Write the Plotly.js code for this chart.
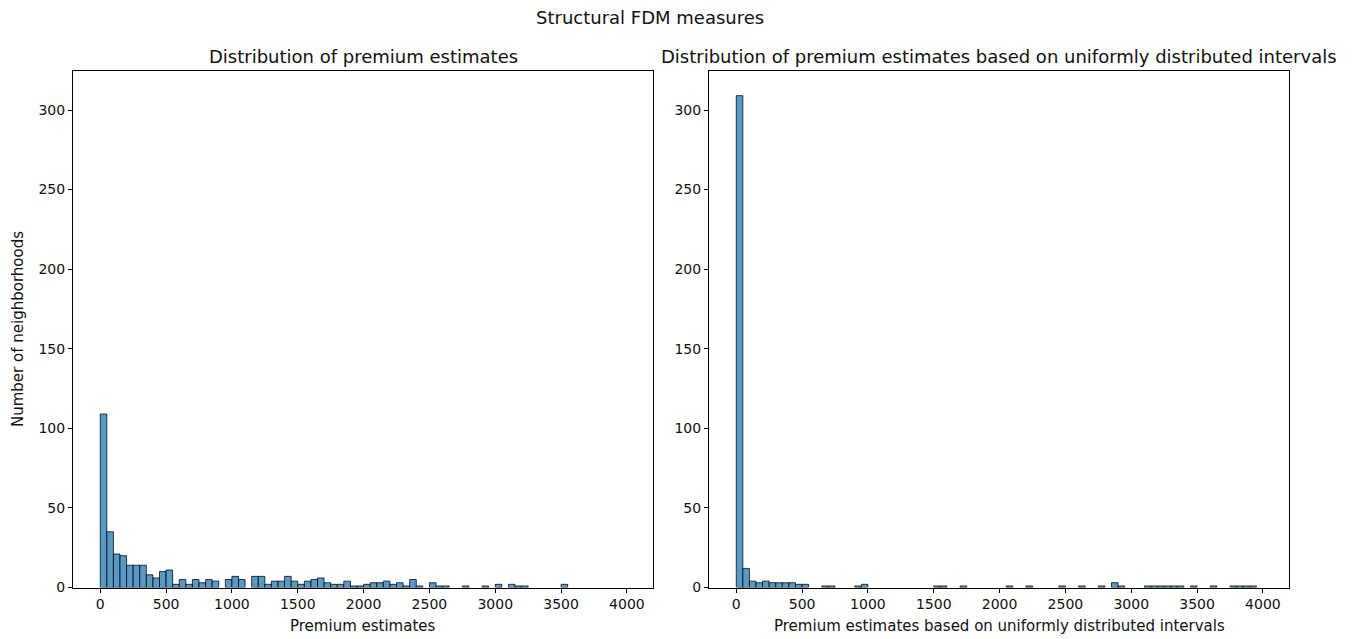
<!DOCTYPE html>
<html>
<head>
<meta charset="utf-8">
<script src="https://cdn.plot.ly/plotly-3.0.1.min.js"></script>
<style>html,body{margin:0;padding:0;background:#fff;}#chart{width:1358px;height:639px;}</style>
</head>
<body>
<div id="chart"></div>
<script>
const binStart = 0;
const binWidth = 50;
const leftCounts = [109,35,21,20,14,14,14,8,6,10,
  11,2,5,2,5,3,5,4,0,5,
  7,5,0,7,7,2,4,4,7,4,
  2,4,5,6,3,2,2,4,1,1,
  2,3,3,4,2,3,1,5,1,0,
  3,1,1,0,0,1,0,0,1,0,
  2,0,2,1,1,0,0,0,0,0,
  2,0,0,0,0,0,0,0,0,0];
const rightCounts = [309,12,4,3,4,3,3,3,3,2,
  2,0,0,1,1,0,0,0,1,2,
  0,0,0,0,0,0,0,0,0,0,
  1,1,0,0,1,0,0,0,0,0,
  0,1,0,0,1,0,0,0,0,1,
  0,0,1,0,0,1,0,3,1,0,
  0,0,1,1,1,1,1,1,0,1,
  0,0,1,0,0,1,1,1,1,0];
const xTicks = [0,500,1000,1500,2000,2500,3000,3500,4000];
const yTicks = [0,50,100,150,200,250,300];

const suptitle = "Structural FDM measures";
const leftTitle = "Distribution of premium estimates";
const rightTitle = "Distribution of premium estimates based on uniformly distributed intervals";
const leftXLabel = "Premium estimates";
const rightXLabel = "Premium estimates based on uniformly distributed intervals";
const yLabel = "Number of neighborhoods";

const W = 1358, H = 639;
const centers = arr => arr.map((_, i) => binStart + binWidth * (i + 0.5));
const nonZero = arr => arr.map(v => (v === 0 ? null : v));
const barStyle = {color: "rgb(87,153,199)", line: {color: "rgba(0,0,0,0.75)", width: 1}};

const traces = [
  {type: "bar", x: centers(leftCounts), y: nonZero(leftCounts), width: binWidth, marker: barStyle, xaxis: "x", yaxis: "y"},
  {type: "bar", x: centers(rightCounts), y: nonZero(rightCounts), width: binWidth, marker: barStyle, xaxis: "x2", yaxis: "y2"}
];

const fam = "DejaVu Sans, sans-serif";
const tickFont = {family: fam, size: 14, color: "#111"};
const labelFont = {family: fam, size: 15, color: "#111"};
const titleFont = {family: fam, size: 18, color: "#111"};
const xr = [-207, 4198];
const yr = [0, 324.5];
const axBase = {showline: true, mirror: true, linecolor: "#000", linewidth: 1, ticks: "outside", ticklen: 4, tickwidth: 1, tickcolor: "#000", showgrid: false, zeroline: false, tickfont: tickFont};
const px = v => v / W;
const py = v => 1 - v / H;
const yDom = [py(587.5), py(71)];

const layout = {
  width: W, height: H,
  margin: {l: 0, r: 0, t: 0, b: 0},
  paper_bgcolor: "#fff", plot_bgcolor: "#fff",
  showlegend: false, bargap: 0,
  font: tickFont,
  xaxis: Object.assign({}, axBase, {domain: [px(73), px(653)], range: xr, tickvals: xTicks, anchor: "y"}),
  yaxis: Object.assign({}, axBase, {domain: yDom, range: yr, tickvals: yTicks, anchor: "x"}),
  xaxis2: Object.assign({}, axBase, {domain: [px(709), px(1289)], range: xr, tickvals: xTicks, anchor: "y2"}),
  yaxis2: Object.assign({}, axBase, {domain: yDom, range: yr, tickvals: yTicks, anchor: "x2"}),
  annotations: [
    {text: suptitle, xref: "paper", yref: "paper", x: px(650), y: py(17), xanchor: "center", yanchor: "middle", showarrow: false, font: titleFont},
    {text: leftTitle, xref: "paper", yref: "paper", x: px(363), y: py(57), xanchor: "center", yanchor: "middle", showarrow: false, font: titleFont},
    {text: rightTitle, xref: "paper", yref: "paper", x: px(999), y: py(57), xanchor: "center", yanchor: "middle", showarrow: false, font: titleFont},
    {text: leftXLabel, xref: "paper", yref: "paper", x: px(363), y: py(626), xanchor: "center", yanchor: "middle", showarrow: false, font: labelFont},
    {text: rightXLabel, xref: "paper", yref: "paper", x: px(999), y: py(626), xanchor: "center", yanchor: "middle", showarrow: false, font: labelFont},
    {text: yLabel, xref: "paper", yref: "paper", x: px(18), y: py(329), xanchor: "center", yanchor: "middle", textangle: -90, showarrow: false, font: labelFont}
  ]
};

Plotly.newPlot("chart", traces, layout, {displayModeBar: false, staticPlot: true});
</script>
</body>
</html>
